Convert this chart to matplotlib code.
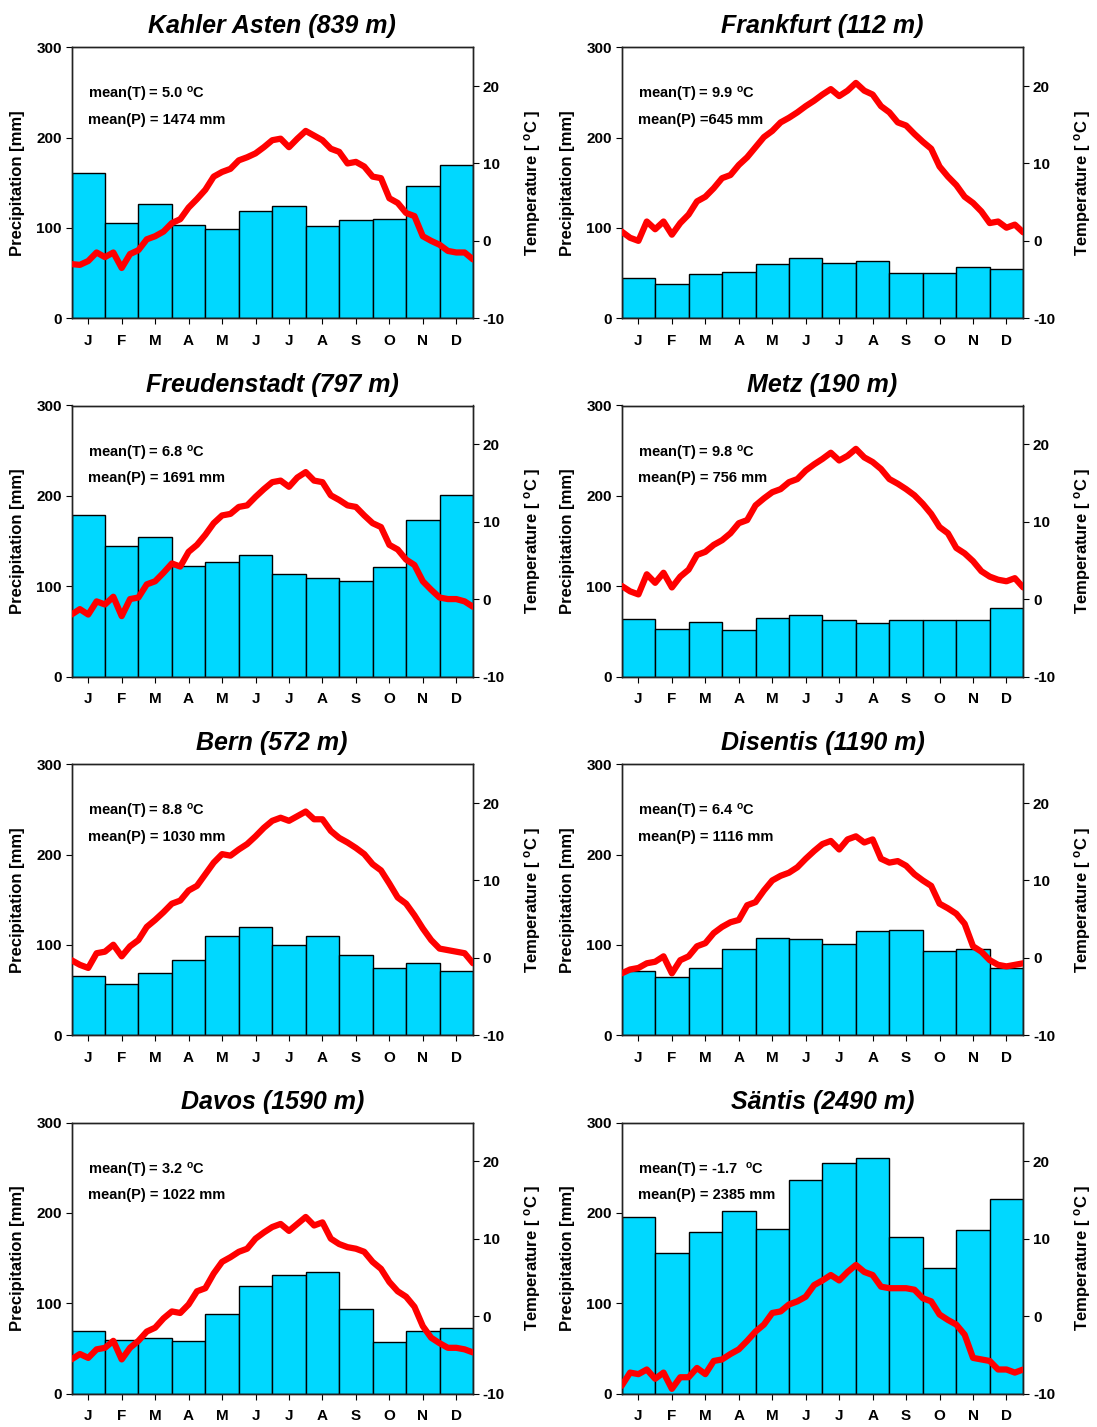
import numpy as np
import matplotlib
matplotlib.use("Agg")
import matplotlib.pyplot as plt

plt.rcParams['font.family'] = ['Liberation Sans', 'DejaVu Sans']
plt.rcParams['mathtext.fontset'] = 'custom'
plt.rcParams['mathtext.rm'] = 'Liberation Sans'
plt.rcParams['mathtext.bf'] = 'Liberation Sans:bold'
plt.rcParams['mathtext.it'] = 'Liberation Sans:italic'
plt.rcParams['axes.unicode_minus'] = False

months = ['J', 'F', 'M', 'A', 'M', 'J', 'J', 'A', 'S', 'O', 'N', 'D']

stations = ['Kahler Asten (839 m)', 'Frankfurt (112 m)', 'Freudenstadt (797 m)', 'Metz (190 m)',
            'Bern (572 m)', 'Disentis (1190 m)', 'Davos (1590 m)', 'Säntis (2490 m)']
mean_T = ['5.0 ', '9.9 ', '6.8 ', '9.8 ', '8.8 ', '6.4 ', '3.2 ', '-1.7  ']
mean_P = ['= 1474 mm', '=645 mm', '= 1691 mm', '= 756 mm', '= 1030 mm', '= 1116 mm', '= 1022 mm', '= 2385 mm']

# monthly precipitation [mm]
P_kahler = [161, 105, 127, 103, 99, 119, 124, 102, 109, 110, 146, 170]
P_frankfurt = [45, 38, 49, 51, 60, 67, 61, 63, 50, 50, 57, 55]
P_freudenstadt = [179, 145, 154, 122, 127, 134, 113, 109, 106, 121, 173, 201]
P_metz = [64, 53, 60, 52, 65, 68, 62, 59, 63, 62, 63, 76]
P_bern = [66, 57, 69, 83, 110, 120, 100, 110, 89, 74, 80, 71]
P_disentis = [71, 64, 74, 95, 108, 107, 101, 116, 117, 93, 95, 75]
P_davos = [69, 59, 61, 58, 88, 119, 131, 134, 93, 57, 69, 72]
P_saentis = [195, 156, 179, 202, 182, 236, 255, 261, 173, 139, 181, 215]

# daily-mean temperature curve, sampled ~every 7.5 days [degC]
T_kahler = [-3.0, -3.1, -2.6, -1.5, -2.1, -1.5, -3.5, -1.7, -1.2, 0.2, 0.6, 1.2, 2.3, 2.8, 4.3, 5.4,
            6.6, 8.3, 8.9, 9.3, 10.4, 10.8, 11.3, 12.1, 13.0, 13.2, 12.1, 13.2, 14.2, 13.6, 13.0, 11.9,
            11.5, 10.0, 10.2, 9.6, 8.3, 8.1, 5.5, 4.9, 3.6, 3.2, 0.6, 0.0, -0.5, -1.3, -1.5, -1.5, -2.4]
T_frankfurt = [1.2, 0.4, 0.0, 2.5, 1.5, 2.5, 0.8, 2.3, 3.4, 5.1, 5.7, 6.8, 8.1, 8.5, 9.8, 10.8,
               12.1, 13.4, 14.2, 15.3, 15.9, 16.6, 17.4, 18.1, 18.9, 19.6, 18.7, 19.4, 20.4, 19.4, 18.9, 17.4,
               16.6, 15.3, 14.9, 13.8, 12.8, 11.9, 9.6, 8.3, 7.2, 5.7, 4.9, 3.8, 2.3, 2.5, 1.7, 2.1, 1.1]
T_freudenstadt = [-2.0, -1.3, -2.0, -0.3, -0.7, 0.3, -2.2, 0.0, 0.2, 1.9, 2.3, 3.4, 4.6, 4.2, 6.1, 7.0,
                  8.3, 9.8, 10.8, 11.0, 11.9, 12.1, 13.2, 14.2, 15.1, 15.3, 14.5, 15.7, 16.4, 15.3, 15.1, 13.4,
                  12.8, 12.1, 11.9, 10.8, 9.8, 9.3, 7.0, 6.4, 5.1, 4.4, 2.3, 1.2, 0.2, 0.0, 0.0, -0.3, -1.0]
T_metz = [1.7, 1.0, 0.6, 3.2, 2.1, 3.4, 1.5, 2.9, 3.8, 5.7, 6.1, 7.0, 7.6, 8.5, 9.8, 10.2,
          12.1, 13.0, 13.8, 14.2, 15.1, 15.5, 16.6, 17.4, 18.1, 18.9, 17.9, 18.5, 19.4, 18.3, 17.7, 16.8,
          15.5, 14.9, 14.2, 13.4, 12.3, 11.0, 9.3, 8.5, 6.6, 5.9, 4.9, 3.6, 2.9, 2.5, 2.3, 2.7, 1.5]
T_bern = [-0.3, -0.9, -1.3, 0.6, 0.8, 1.7, 0.2, 1.5, 2.3, 4.0, 4.9, 5.9, 7.0, 7.4, 8.7, 9.3,
          10.8, 12.3, 13.4, 13.2, 14.0, 14.7, 15.7, 16.8, 17.7, 18.1, 17.7, 18.3, 18.9, 17.9, 17.9, 16.4,
          15.5, 14.9, 14.2, 13.4, 12.1, 11.3, 9.6, 7.8, 7.0, 5.5, 3.8, 2.3, 1.2, 1.0, 0.8, 0.6, -0.7]
T_disentis = [-2.0, -1.5, -1.3, -0.7, -0.5, 0.2, -2.0, -0.3, 0.2, 1.5, 1.9, 3.2, 4.0, 4.6, 4.9, 6.8,
              7.2, 8.7, 10.0, 10.6, 11.0, 11.7, 12.8, 13.8, 14.7, 15.1, 14.0, 15.3, 15.7, 14.9, 15.3, 12.8,
              12.3, 12.5, 11.9, 10.8, 10.0, 9.3, 7.0, 6.4, 5.7, 4.4, 1.5, 0.8, -0.3, -0.9, -1.1, -0.9, -0.7]
T_davos = [-5.6, -4.9, -5.4, -4.3, -4.1, -3.2, -5.6, -4.1, -3.2, -2.0, -1.5, -0.3, 0.6, 0.4, 1.5, 3.2,
           3.6, 5.5, 7.0, 7.6, 8.3, 8.7, 10.0, 10.8, 11.5, 11.9, 11.0, 11.9, 12.8, 11.7, 12.1, 10.0,
           9.3, 8.9, 8.7, 8.3, 7.0, 6.1, 4.4, 3.2, 2.5, 1.2, -1.3, -2.8, -3.5, -4.1, -4.1, -4.3, -4.7]
T_saentis = [-9.0, -7.3, -7.5, -6.9, -8.1, -7.3, -9.4, -7.9, -7.9, -6.7, -7.5, -5.8, -5.6, -4.9, -4.3, -3.2,
             -2.0, -1.1, 0.4, 0.6, 1.5, 1.9, 2.5, 4.0, 4.6, 5.3, 4.6, 5.7, 6.6, 5.7, 5.3, 3.8,
             3.6, 3.6, 3.6, 3.4, 2.3, 1.9, 0.2, -0.5, -1.1, -2.4, -5.4, -5.6, -5.8, -6.9, -6.9, -7.3, -6.9]

P_all = [P_kahler, P_frankfurt, P_freudenstadt, P_metz, P_bern, P_disentis, P_davos, P_saentis]
T_all = [T_kahler, T_frankfurt, T_freudenstadt, T_metz, T_bern, T_disentis, T_davos, T_saentis]

BAR = '#00D8FF'
W, H = 1097, 1427
fig = plt.figure(figsize=(W / 100, H / 100), dpi=100)

lefts = [71.5, 621.7]
tops = [47.3, 405.5, 764.3, 1122.5]
aw, ah = 401.5, 271.0

for k in range(8):
    r, c = divmod(k, 2)
    x0 = lefts[c] / W
    y0 = 1 - (tops[r] + ah) / H
    ax = fig.add_axes([x0, y0, aw / W, ah / H])
    xm = np.arange(12) + 0.5
    ax.bar(xm, P_all[k], width=1.0, color=BAR, edgecolor='black', linewidth=1.0, zorder=2)
    ax.set_xlim(0, 12)
    ax.set_ylim(0, 300)
    ax.set_yticks([0, 100, 200, 300])
    ax.set_xticks(xm)
    ax.set_xticklabels(months, fontsize=11, fontweight='bold')
    ax.tick_params(axis='x', direction='out', length=4, pad=7)
    ax.tick_params(axis='y', direction='out', length=4, pad=3, labelsize=11)
    for lab in ax.get_yticklabels():
        lab.set_fontweight('bold')
    ax.set_ylabel('Precipitation [mm]', fontsize=12, fontweight='bold', labelpad=8)
    ax.set_title(stations[k], fontsize=18, fontweight='bold', style='italic', pad=10)

    ax2 = ax.twinx()
    t = np.linspace(0, 12, len(T_all[k]))
    ax2.plot(t, T_all[k], color='#FF0000', linewidth=4.5, solid_capstyle='round',
             solid_joinstyle='round', zorder=3)
    ax2.set_ylim(-10, 25)
    ax2.set_yticks([-10, 0, 10, 20])
    ax2.tick_params(axis='y', direction='out', length=4, pad=3, labelsize=11)
    for lab in ax2.get_yticklabels():
        lab.set_fontweight('bold')
    ax2.set_ylabel(r'Temperature [ $^{\mathbf{o}}$C ]', fontsize=12, fontweight='bold', labelpad=12)

    for a in (ax, ax2):
        for s in a.spines.values():
            s.set_linewidth(1.0)
            s.set_color('#222222')

    ax.text(0.041, 0.824, 'mean(T) = ' + mean_T[k] + r'$^{\mathbf{o}}$C', transform=ax.transAxes,
            fontsize=10.5, fontweight='bold', va='center', ha='left', zorder=5)
    ax.text(0.041, 0.732, 'mean(P) ' + mean_P[k], transform=ax.transAxes,
            fontsize=10.5, fontweight='bold', va='center', ha='left', zorder=5)

fig.savefig('out.png', dpi=100)
